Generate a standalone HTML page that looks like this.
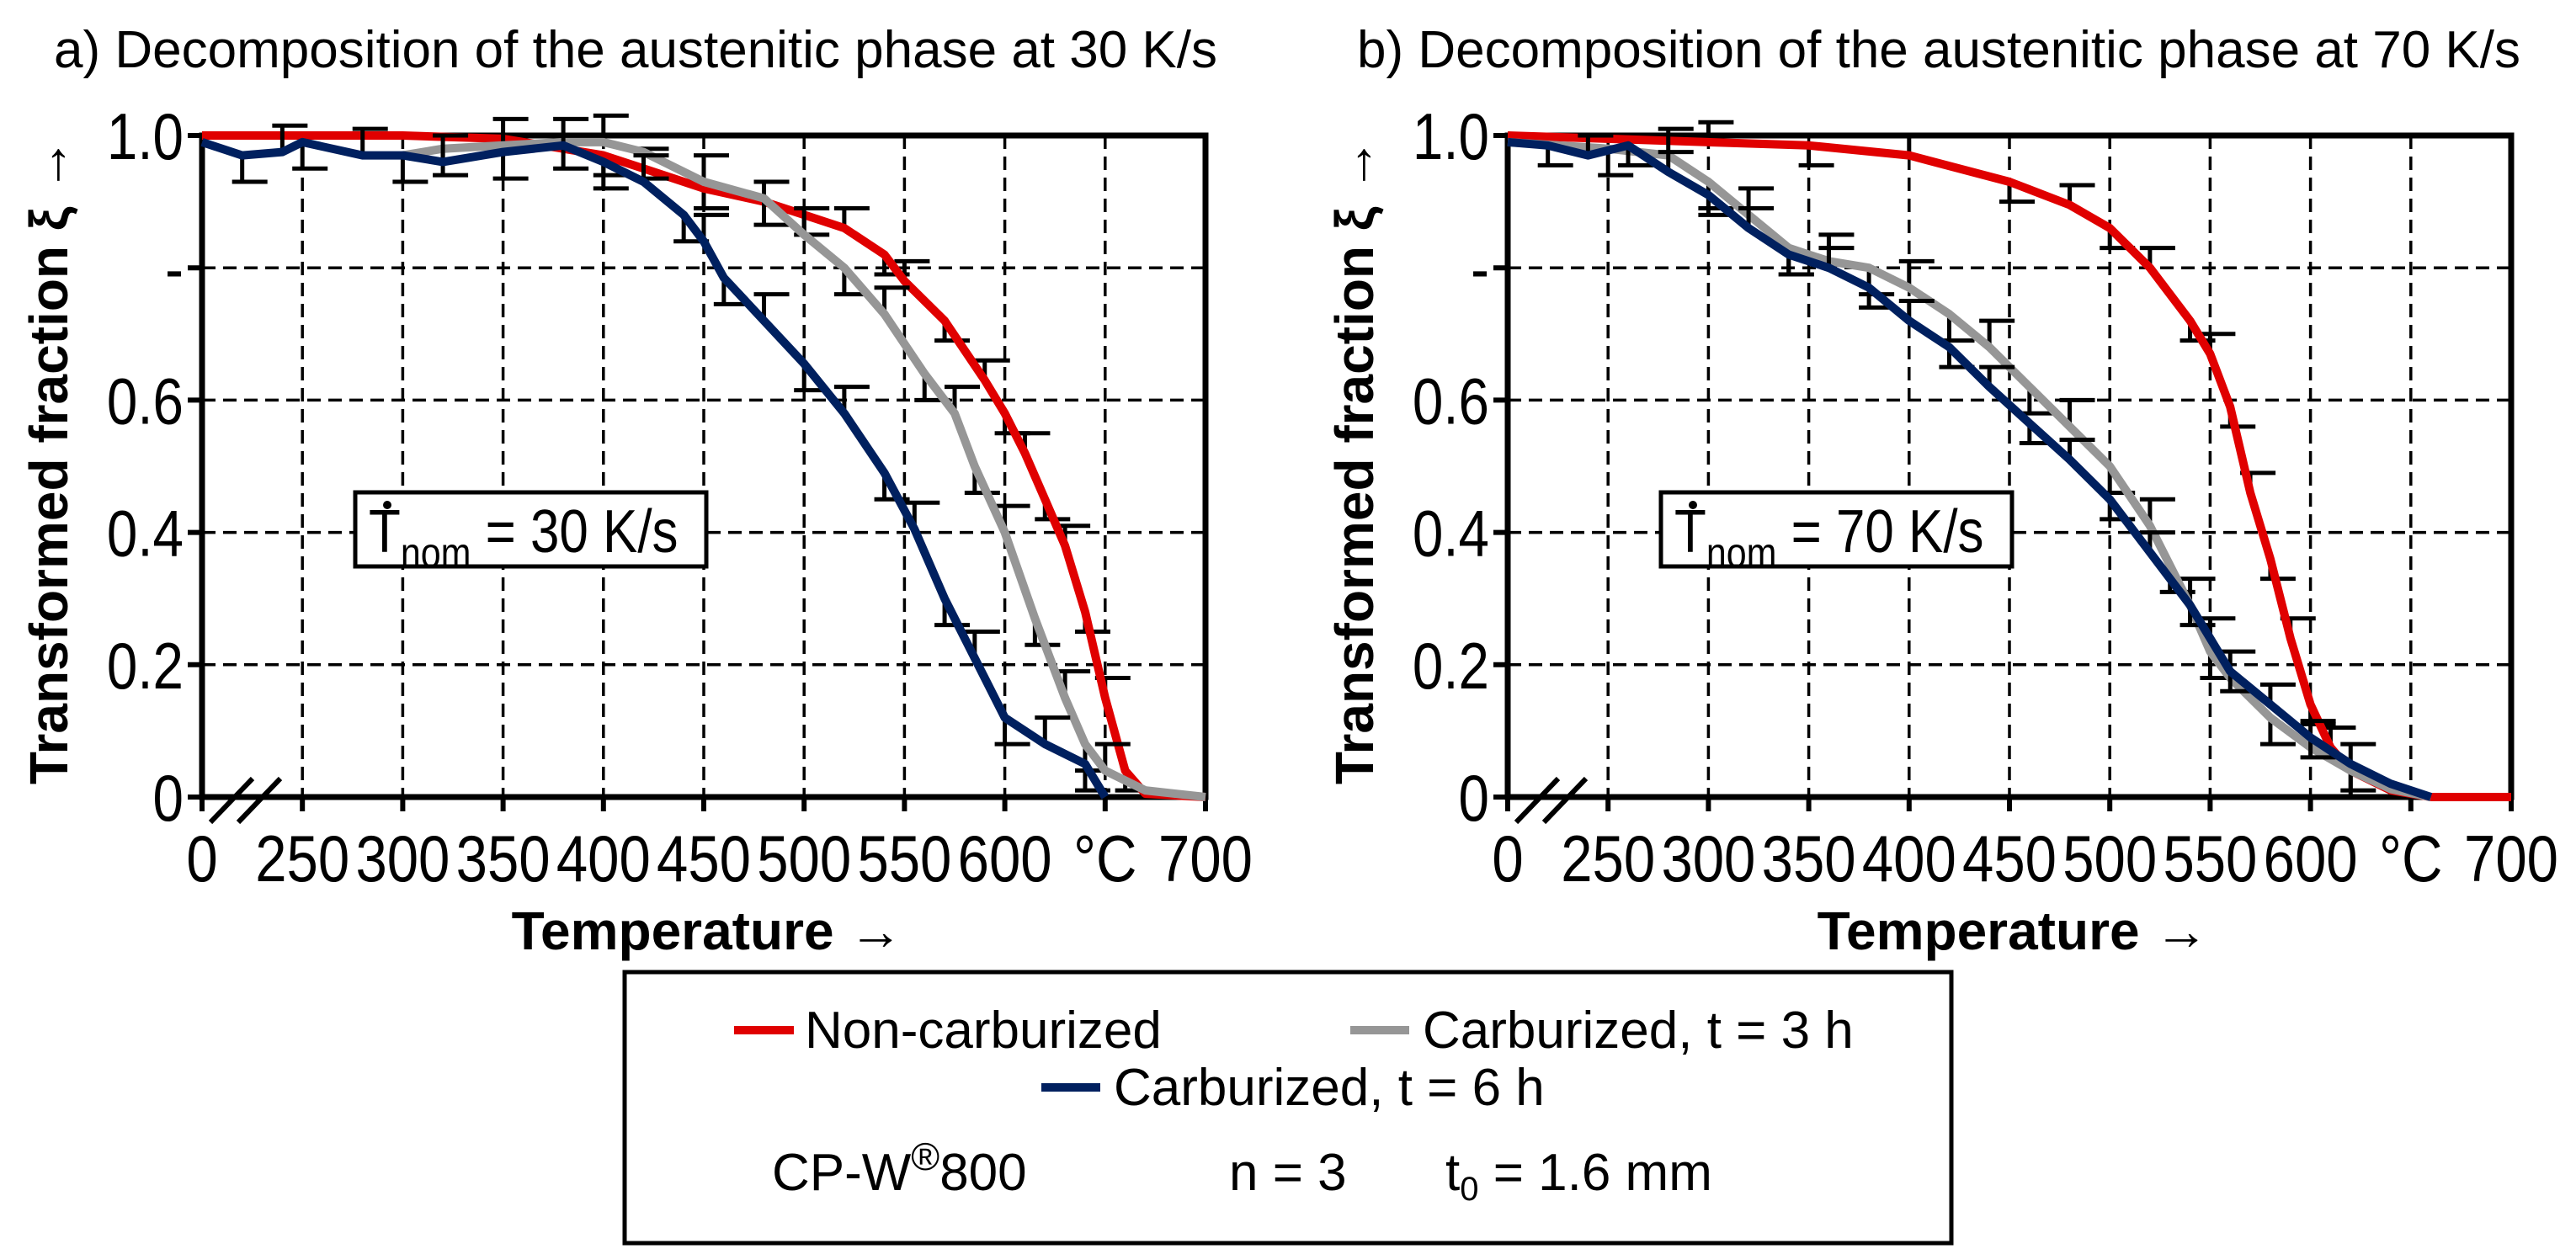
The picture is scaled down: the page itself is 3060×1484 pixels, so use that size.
<!DOCTYPE html>
<html><head><meta charset="utf-8"><style>
html,body{margin:0;padding:0;background:#fff;}
svg{display:block;font-family:"Liberation Sans",Arial,sans-serif;}
.tk{font-size:78px;}
</style></head><body>
<svg id="chart" width="3060" height="1484" viewBox="0 0 3060 1484" xmlns="http://www.w3.org/2000/svg">
<text x="64" y="80" font-size="62">a) Decomposition of the austenitic phase at 30 K/s</text>
<text x="1612" y="80" font-size="62">b) Decomposition of the austenitic phase at 70 K/s</text>
<g id="plots"></g>
<g>
<rect x="742" y="1155" width="1576" height="322" fill="#fff" stroke="#000" stroke-width="5"/>
<line x1="872" y1="1224" x2="943" y2="1224" stroke="#e00000" stroke-width="10"/>
<text x="956" y="1245" font-size="62">Non-carburized</text>
<line x1="1604" y1="1224" x2="1674" y2="1224" stroke="#969696" stroke-width="10"/>
<text x="1690" y="1245" font-size="62">Carburized, t = 3 h</text>
<line x1="1237" y1="1292" x2="1307" y2="1292" stroke="#00205f" stroke-width="10"/>
<text x="1323" y="1313" font-size="62">Carburized, t = 6 h</text>
<text x="917" y="1414" font-size="62">CP-W<tspan font-size="46" dy="-24">®</tspan><tspan dy="24">800</tspan></text>
<text x="1460" y="1414" font-size="62">n = 3</text>
<text x="1717" y="1414" font-size="62">t<tspan font-size="40" dy="12">0</tspan><tspan dy="-12"> = 1.6 mm</tspan></text>
</g>
</svg>
<script>
// Temperatures (°C) and transformed fraction values
const tA_red  = [200,300,350,400,420,450,480,500,520,540,550,570,590,600,610,620,630,640,650,660,670,700];
const vA_red  = [1.0,1.0,0.995,0.97,0.95,0.92,0.90,0.88,0.86,0.82,0.78,0.72,0.63,0.58,0.52,0.45,0.38,0.28,0.15,0.04,0.005,0];
const tA_gray = [300,320,350,380,400,420,450,480,500,520,540,560,575,585,600,615,630,640,650,670,700];
const vA_gray = [0.97,0.98,0.985,0.99,0.99,0.975,0.93,0.905,0.85,0.80,0.73,0.64,0.58,0.50,0.40,0.27,0.15,0.08,0.04,0.01,0];
const tA_navy = [200,220,240,250,280,300,320,350,380,400,420,440,450,460,480,500,520,540,555,570,585,600,620,640,650];
const vA_navy = [0.99,0.97,0.975,0.99,0.97,0.97,0.96,0.975,0.985,0.96,0.93,0.88,0.84,0.785,0.72,0.655,0.58,0.49,0.405,0.30,0.21,0.12,0.08,0.05,0];
const tB_red  = [200,250,300,350,400,450,480,500,520,540,550,560,570,580,590,600,610,620,640,660,700];
const vB_red  = [1.0,0.995,0.99,0.985,0.97,0.93,0.895,0.86,0.80,0.72,0.67,0.59,0.46,0.36,0.24,0.14,0.075,0.04,0.01,0,0];
const tB_gray = [200,250,280,300,320,340,360,380,400,420,440,460,480,500,520,530,540,550,560,580,600,620,640,660];
const vB_gray = [0.99,0.98,0.97,0.93,0.88,0.83,0.81,0.80,0.77,0.73,0.68,0.62,0.56,0.50,0.41,0.35,0.29,0.22,0.18,0.12,0.075,0.04,0.012,0];
const tB_navy = [200,220,240,260,280,300,320,340,360,380,400,420,440,460,480,500,520,540,550,560,580,600,620,640,660];
const vB_navy = [0.99,0.985,0.97,0.985,0.945,0.91,0.86,0.82,0.80,0.77,0.72,0.68,0.62,0.565,0.51,0.45,0.37,0.29,0.24,0.19,0.14,0.09,0.05,0.02,0];
const xTickLabels = ["0","250","300","350","400","450","500","550","600","°C","700"];
const yTicks = [0,0.2,0.4,0.6,0.8,1.0];
const yTickLabels = ["0","0.2","0.4","0.6","-","1.0"];

const NS="http://www.w3.org/2000/svg";
const root=document.getElementById('plots');
function mk(tag,attrs,parent){const e=document.createElementNS(NS,tag);for(const k in attrs)e.setAttribute(k,attrs[k]);parent.appendChild(e);return e;}

function drawPlot(x0,id,rate,series){
  const x1=x0+1192, y0=947, yTop=161;
  const sx=t=>x0+(t-200)/500*(x1-x0);
  const sy=v=>y0-v*(y0-yTop);
  const g=mk('g',{},root);
  
  
  for(let i=1;i<10;i++){
    const t=200+i*50;
    const l=mk('line',{x1:sx(t),x2:sx(t),y1:yTop,y2:y0,stroke:'#000','stroke-width':3.5,'stroke-dasharray':'16,9'},g);
    
    
  }
  yTicks.forEach((v,i)=>{
    if(v>0&&v<1){
      const l=mk('line',{x1:x0,x2:x1,y1:sy(v),y2:sy(v),stroke:'#000','stroke-width':3.5,'stroke-dasharray':'16,9'},g);
      
      
    }
    mk('line',{x1:x0-17,x2:x0,y1:sy(v),y2:sy(v),stroke:'#000','stroke-width':6},g);
    const tx=mk('text',{x:0,y:0,'text-anchor':'end',class:'tk',transform:'translate('+(x0-22)+','+(sy(v)+28)+') scale(0.84,1)'},g);
    tx.textContent=yTickLabels[i];
    
    
  });
  xTickLabels.forEach((s,i)=>{
    const t=200+i*50;
    mk('line',{x1:sx(t),x2:sx(t),y1:y0,y2:y0+17,stroke:'#000','stroke-width':6},g);
    const tx=mk('text',{x:0,y:0,'text-anchor':'middle',class:'tk',transform:'translate('+sx(t)+',1047) scale(0.86,1)'},g);
    tx.textContent=s;
    
    
  });
  const fr=mk('rect',{x:x0,y:yTop,width:x1-x0,height:y0-yTop,fill:'none',stroke:'#000','stroke-width':7},g);
  
  
  mk('line',{x1:x0+10,y1:y0+30,x2:x0+60,y2:y0-22,stroke:'#000','stroke-width':6},g);
  mk('line',{x1:x0+43,y1:y0+30,x2:x0+93,y2:y0-22,stroke:'#000','stroke-width':6},g);
  series.forEach(s=>{
    for(let i=1;i<s.t.length-1;i++){
      const v=s.v[i]; if(v<=0.02||v>=0.995) continue;
      const e=s.err, X=sx(s.t[i]);
      const dir=(i%2)?1:-1;
      const yb=sy(v-dir*e);
      mk('line',{x1:X,x2:X,y1:sy(v),y2:yb,stroke:'#000','stroke-width':5},g);
      mk('line',{x1:X-12,x2:X+30,y1:yb,y2:yb,stroke:'#000','stroke-width':5},g);
    }
    const d=s.t.map((t,i)=>(i?'L':'M')+sx(t).toFixed(1)+','+sy(s.v[i]).toFixed(1)).join(' ');
    const p=mk('path',{d:d,fill:'none',stroke:s.c,'stroke-width':10,'stroke-linejoin':'round'},g);
    
    
  });
  const bx=x0+182;
  const ab=mk('rect',{x:bx,y:585,width:417,height:88,fill:'#fff',stroke:'#000','stroke-width':5},g);
  
  
  const at=mk('text',{x:0,y:0,'font-size':72,transform:'translate('+(bx+16)+',656) scale(0.86,1)'},g);
  at.innerHTML='T<tspan font-size="50" dy="18">nom</tspan><tspan dy="-18"> = '+rate+' K/s</tspan>';
  
  
  mk('circle',{cx:bx+38,cy:600,r:5,fill:'#000'},g);
  const yt=mk('text',{x:0,y:0,'font-size':64,'font-weight':'bold','text-anchor':'middle',transform:'translate('+(x0-160)+',548) rotate(-90)'},g);
  yt.textContent='Transformed fraction ξ →';
  
  
  const xt=mk('text',{x:x0+600,y:1128,'font-size':64,'font-weight':'bold','text-anchor':'middle'},g);
  xt.textContent='Temperature →';
  
  
}
drawPlot(240,'a','30',[
  {n:'non-carburized',t:tA_red,v:vA_red,c:'#e00000',err:0.03},
  {n:'carburized-3h',t:tA_gray,v:vA_gray,c:'#969696',err:0.04},
  {n:'carburized-6h',t:tA_navy,v:vA_navy,c:'#00205f',err:0.04}]);
drawPlot(1791,'b','70',[
  {n:'non-carburized',t:tB_red,v:vB_red,c:'#e00000',err:0.03},
  {n:'carburized-3h',t:tB_gray,v:vB_gray,c:'#969696',err:0.04},
  {n:'carburized-6h',t:tB_navy,v:vB_navy,c:'#00205f',err:0.03}]);
</script>
</body></html>
